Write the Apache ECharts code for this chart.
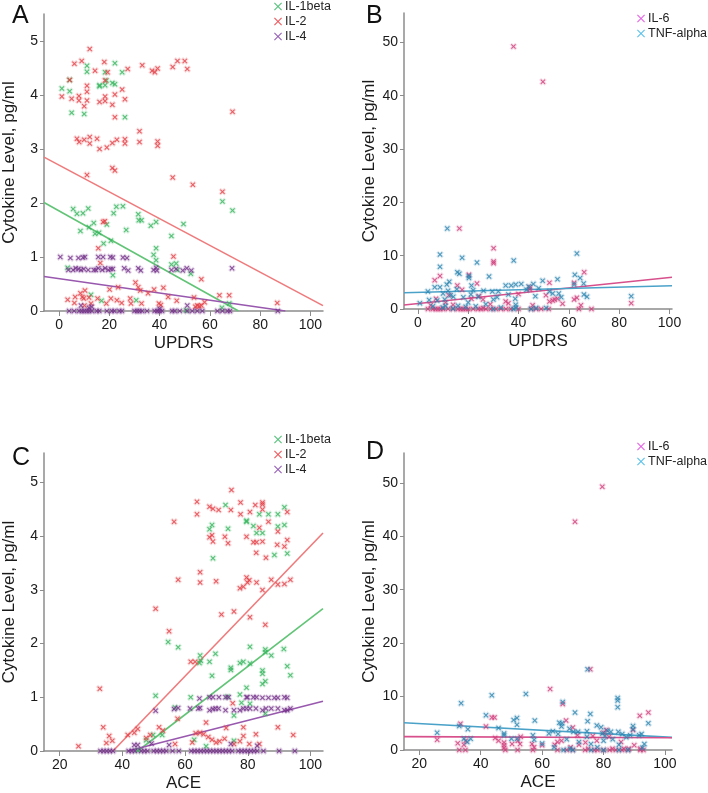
<!DOCTYPE html>
<html>
<head>
<meta charset="utf-8">
<script src="https://cdn.jsdelivr.net/npm/echarts@6/dist/echarts.min.js"></script>
<style>html,body{margin:0;padding:0;background:#fff}#c{width:708px;height:793px}</style>
</head>
<body>
<div id="c"></div>
<script>
// ---------- tick labels ----------
const xTicksUPDRS = [0, 20, 40, 60, 80, 100];
const xTicksACE = [20, 40, 60, 80, 100];
const yTicksLow = [0, 1, 2, 3, 4, 5];
const yTicksHigh = [0, 10, 20, 30, 40, 50];

// ---------- Panel A : UPDRS vs IL-1beta / IL-2 / IL-4 ----------
const A_IL1beta = [[1.1,4.12],[4.2,4.28],[4.2,4.07],[5,3.67],[10,3.65],[11.1,4.54],[11.1,4.43],[16.1,4.16],[16.1,4.18],[18.3,4.18],[18.3,4.42],[18.8,4.27],[21.2,4.22],[22.2,4.2],[22.2,4.59],[25.1,4.42],[26.2,3.59],
[65,2.03],[69,1.86],[5.6,1.89],[7.1,1.8],[9.5,1.81],[11.6,1.9],[8.5,1.48],[13.8,1.63],[11.9,1.55],[14.3,1.43],[15.9,1.45],[17.7,1.25],[20.6,1.3],[21.7,1.81],[22.8,1.93],[25.4,1.94],[26.7,1.5],[31.5,1.79],[31.7,1.68],[32.8,1.68],[36.5,1.58],[38.6,1.65],[49.5,1.61],[44.7,1.39],[38.6,1.16],[37.6,1.04],[38.6,0.94],[44.7,0.86],[46.6,0.88],[47.1,0.76],[52.4,0.69],[21.4,0.66],[16.9,0.19],[12.7,0.3],[30.7,0.2],[3.4,0.8],[50.5,0.01],[64.8,0.06],[67.7,0.14],[19,1.6]];
const A_IL2 = [[12.2,4.85],[6.1,4.58],[9,4.63],[18,4.61],[4.2,4.28],[1.1,3.97],[5,3.93],[7.9,3.98],[7.9,3.9],[11.1,4.17],[11.1,4.06],[11.1,3.9],[10,3.79],[14.3,4.45],[16.1,3.87],[18.3,4.27],[18.3,3.97],[18.3,3.89],[19.3,4.42],[21.2,3.82],[22.2,4.01],[22.2,3.59],[25.1,4.1],[26.2,3.92],[27.3,4.48],[33.1,4.55],[37,4.45],[38.1,4.42],[39.2,4.49],[45.2,4.52],[47.1,4.63],[50,4.63],[51,4.48],[69,3.69],
[7.1,3.19],[8,3.13],[10,3.17],[12.2,3.22],[12.2,3.1],[15.1,3.19],[16.1,3.0],[19,3.03],[21.2,3.11],[23,3.17],[26.2,3.18],[26.2,3.1],[32,3.33],[32,3.13],[39.2,3.14],[39.2,3.06],
[11.1,2.52],[21.2,2.65],[22.2,2.6],[45.2,2.47],[53.2,2.34],[65,2.21],
[17.5,1.65],[18.2,1.66],[15.6,1.16],[16.4,0.89],[45.5,1.01],[56.6,0.59],[30.4,0.53],[31.5,0.44],[20.1,0.4],[23.5,0.44],[32.3,0.38],[35.4,0.33],[37.8,0.4],[41.5,0.43],[3.4,0.21],[6.4,0.26],[8.5,0.33],[10.3,0.38],[9.3,0.26],[9.8,0.23],[11.9,0.25],[12.7,0.14],[6.1,0.15],[15.3,0.23],[18.8,0.14],[20.6,0.23],[23,0.2],[24.9,0.15],[28.3,0.23],[28.6,0.14],[32.8,0.14],[39.7,0.14],[40.5,0.11],[53.7,0.25],[55,0.1],[54.2,0.08],[55.8,0.09],[56.6,0.1],[57.9,0.16],[63.8,0.29],[67.7,0.29],[86.8,0.15],[46.8,0.19],[43.4,0.26],[10.1,0.1]];
const A_IL4 = [[0.5,1.0],[4.5,0.98],[7.7,0.98],[9.5,0.99],[10.3,1.0],[15.6,1.0],[17.5,1.0],[20.4,1.0],[21.4,0.99],[25.4,0.99],[27,0.98],
[3.7,0.76],[5.6,0.76],[6.6,0.79],[7.7,0.78],[8.7,0.76],[9.8,0.78],[11.6,0.76],[13.8,0.76],[14.6,0.76],[15.6,0.79],[17.2,0.76],[18.3,0.79],[19.6,0.76],[20.6,0.78],[21.4,0.78],[25.9,0.79],[27.5,0.75],[31.5,0.79],[32.5,0.75],[37.6,0.76],[38.6,0.8],[38.9,0.75],[44.7,0.76],[46.6,0.78],[49.2,0.75],[50.8,0.79],[52.6,0.75],[68.8,0.79],
[11.9,0.06],[8.7,0.1],[13,0.08],[51,0.1],[40,0.04],
[4,0],[6,0],[8,0],[9,0],[10,0],[11,0],[12,0],[13,0],[15,0],[16,0],[19,0],[21,0],[22,0],[24,0],[25,0],[30,0],[31,0],[32,0],[33,0],[35,0],[38,0],[39,0],[40,0],[41,0],[45,0],[46,0],[48,0],[51,0],[53,0],[55,0],[57,0],[63,0],[65,0],[67,0],[68,0],[87,0]];
const A_fitIL1beta = [[-6,2.01],[71.4,0]];
const A_fitIL2 = [[-6,2.85],[105,0.1]];
const A_fitIL4 = [[-6,0.64],[90,0]];

// ---------- Panel B : UPDRS vs IL-6 / TNF-alpha ----------
const B_IL6 = [[38,49.2],[49.7,42.6],[16.5,15.1],[30.1,11.4],[30.1,8.9],[30.1,8.6],[8.8,6.2],[6.7,5.4],[20.3,6.4],[23.5,4.8],[44.5,4.1],[44.5,3.7],[52.3,4.9],[66.1,6.9],[62.1,4.9],[50.9,2.6],[52.3,1.4],[53.6,1.6],[54.4,1.8],[55.5,1.9],[62.1,1.8],[63.2,2.1],[64.8,0.7],[84.8,1.1],[34.9,1.4],[28.8,0.9],[25.9,1.8],[24.3,2.4],[21.3,1.9],[17.6,3.6],[15.7,4.4],[12.3,2.6],[7.2,1.9],[5.1,0.7],[45.6,0.7],[57.5,1.0],[40,2.8],[36,1.1],[26,0.2],[11,1.2],[14,0.8],
[4,0],[6,0],[7,0],[8,0],[9,0],[10,0],[12,0],[14,0],[16,0],[17,0],[18,0],[19,0],[20,0],[22,0],[24,0],[25,0],[27,0],[29,0],[31,0],[33,0],[35,0],[37,0],[40,0],[45,0],[47,0],[49,0],[52,0],[64,0],[69,0]];
const B_TNF = [[11.7,15.1],[8.8,10.2],[8.8,7.9],[17.6,9.6],[23.5,8.7],[38.1,9.1],[63.2,10.4],[15.7,6.9],[16.5,6.6],[20.3,6.2],[20.3,5.8],[28.3,6.1],[12.5,5.1],[11.5,4.6],[6.7,4.1],[8.8,4.1],[15.5,3.7],[21.3,4.4],[34.9,4.4],[37.1,4.4],[38.9,4.6],[41.1,4.7],[45.9,4.7],[49.6,5.3],[55.5,5.6],[62.4,6.4],[64.5,5.8],[65.9,4.8],[62.1,4.6],[67.2,2.3],[84.8,2.4],[53.6,2.9],[52.3,3.3],[46.7,2.4],[43.2,3.6],[38.7,1.9],[38.9,0.8],[31.5,2.2],[29.6,3.3],[26.1,3.4],[21.1,2.7],[18.1,2.2],[14.1,2.3],[10.7,1.8],[7.7,1.6],[4.5,1.7],[4,3.3],[0.8,1.1],[9.9,0.3],[12,3.4],[10,2.9],[13,2.6],[22,3.5],[24,2.3],[32,3.3],[30,1.8],[44,4.2],[56,2.9],[48,3.9],[36,2.7],[16,0.6],[20,1.2],[27,0.9],[33,0.3],[39,0.3],[45,0],[47,0.2],[57,2.2],[66,2.7],[19,0.4],[6,0.5],[11,0.6],[14,0.1],[23,0.5],[30,0],[38,0],[51,0.2]];
const B_fitIL6 = [[-5.5,0.75],[101,5.95]];
const B_fitTNF = [[-5.5,3.06],[101,4.37]];

// ---------- Panel C : ACE vs IL-1beta / IL-2 / IL-4 ----------
const C_IL1beta = [[68.6,4.21],[67.8,4.13],[72.9,4.58],[73.7,4.14],[79.6,4.27],[79.6,4.29],[81.8,4.19],[82.8,4.06],[83.7,4.41],[84.7,4.06],[86.6,4.41],[89.6,4.41],[91.7,4.54],[91.7,4.21],[89.6,4.18],[88.5,3.65],[92.6,3.68],[68.9,3.59],
[54.6,2.03],[57.8,1.93],[64.6,1.64],[64.8,1.78],[69.7,1.81],[67.8,1.66],[68.6,1.4],[74.6,1.55],[74.6,1.51],[77.5,1.64],[78.6,1.66],[80.7,1.63],[80.7,1.94],[85.6,1.89],[85.6,1.84],[87.5,1.78],[91.5,1.9],[92.6,1.58],[93.6,1.41],[84.7,1.5],[84.7,1.44],[84.7,1.25],[85.6,1.3],[79.6,1.18],[77.5,1.05],[73.5,1.01],[61.8,1.0],[50.6,1.03],[56.8,0.81],[80.7,0.88],[85.6,0.7],[75.6,0.66],[62.9,0.21],[66.7,0.09],[47.6,0.2],[49.8,0.3],[52.7,0.3],[75.6,0.19],[44.9,0.01],[65,1.68],[78,0.9]];
const C_IL2 = [[74.8,4.86],[63.8,4.64],[63.8,4.41],[67.8,4.55],[68.9,4.51],[70.7,4.49],[74.6,4.49],[77.7,4.63],[77.7,4.41],[80.7,4.45],[82.4,4.58],[84.7,4.63],[84.7,4.59],[84.7,4.5],[86.6,4.27],[56.5,4.27],[67.8,3.98],[68.6,4.02],[68.9,3.9],[72.7,3.99],[73.7,3.87],[79.6,3.99],[81.8,3.89],[82.8,3.89],[84.7,3.9],[83.7,4.16],[82.7,3.69],[85.8,3.6],[89.4,3.84],[89.6,4.09],[91.7,3.81],[92.6,3.93],[92.6,4.45],
[64.8,3.33],[64.8,3.14],[57.8,3.19],[69.9,3.16],[77.5,3.03],[78.6,3.06],[79.6,3.23],[80.5,3.18],[79.9,3.14],[82.8,3.14],[84.7,3.0],[87.5,3.19],[89.6,3.1],[91.7,3.11],[93.6,3.19],
[50.6,2.65],[71.6,2.54],[75.6,2.6],[80.7,2.49],[85.6,2.35],[54.9,2.23],[61.8,1.66],[63.2,1.66],[32.8,1.16],[33.9,0.44],[35.8,0.28],[36.8,0.19],[34.9,0.15],[26,0.09],[41.7,0.3],[43.8,0.34],[44.9,0.41],[47.6,0.24],[48.9,0.3],[51.7,0.44],[52.9,0.38],[57.6,0.6],[56.8,0.13],[62.3,0.16],[63.4,0.33],[64.8,0.34],[65.9,0.31],[67.4,0.26],[66.7,0.53],[68.6,0.21],[69.9,0.16],[71,0.18],[72.6,0.23],[73.1,0.43],[75.6,0.13],[77.5,0.18],[78.6,0.28],[78.6,0.44],[80.5,0.13],[82.6,0.31],[83.7,0.13],[89.6,0.44],[94.5,0.3],[75.2,0.89]];
const C_IL4 = [[64.6,0.98],[67.8,1.0],[68.9,1.0],[70.8,1.0],[72.9,1.0],[73.9,1.0],[79.6,1.0],[79.9,1.0],[81.8,1.0],[82.8,1.0],[84.7,0.99],[86.6,0.99],[88.5,0.99],[89.6,0.99],[91.7,1.0],[92.6,0.99],
[50.6,0.75],[56.5,0.78],[57.8,0.8],[61.6,0.79],[64.2,0.79],[64.8,0.8],[67.8,0.76],[68.9,0.78],[69.7,0.79],[70.7,0.79],[72.9,0.76],[75.6,0.76],[77.5,0.76],[78.6,0.79],[79.6,0.79],[80.7,0.79],[82.6,0.79],[84.7,0.76],[85.8,0.79],[87.5,0.79],[89.6,0.79],[91.7,0.76],[92.6,0.76],[93.6,0.79],
[43.8,0.11],[44.9,0.11],[49.3,0.14],[54.9,0.11],[74.6,0.13],[83,0.1],
[33,0],[34,0],[35,0],[36,0],[37,0],[42,0],[43,0],[44,0],[46,0],[47,0],[48,0],[50,0],[51,0],[52,0],[53,0],[54,0],[56,0],[58,0],[62,0],[63,0],[64,0],[65,0],[66,0],[67,0],[68,0],[69,0],[70,0],[71,0],[72,0],[73,0],[74,0],[75,0],[77,0],[78,0],[79,0],[80,0],[81,0],[82,0],[83,0],[85,0],[90,0],[95,0]];
const C_fitIL1beta = [[44.9,0],[104,2.65]];
const C_fitIL2 = [[37,0],[104,4.06]];
const C_fitIL4 = [[41.7,0],[104,0.925]];

// ---------- Panel D : ACE vs IL-6 / TNF-alpha ----------
const D_IL6 = [[79.6,49.3],[70.7,42.75],[75.7,15.1],[62.6,11.4],[66.7,8.6],[67.8,5.5],[33.4,4.9],[32.5,1.25],[34.5,1.0],[35.1,1.75],[41.7,4.4],[43.6,6.1],[44.5,6.1],[44.7,2.25],[45.8,1.75],[47.6,1.4],[47.6,0.9],[47.6,0.4],[50.2,1.1],[52.1,1.75],[52.8,1.1],[56.7,1.1],[57.4,0.5],[64.1,1.0],[65,1.5],[66.3,1.75],[69.3,0.5],[71.5,2.75],[74.1,1.4],[75,0.25],[76.5,2.6],[77.8,1.75],[80,3.25],[80.9,3.75],[81.8,2.5],[82.9,0.25],[85.7,1.5],[86.6,0.25],[88.3,0.25],[90,0.9],[91.8,6.4],[94.6,7.0],[92,0.25],[25.8,1.9],[89.6,3.75],[70,4.2],[60,0.9],[53,2.5],[72,1.0],
[33,0],[35,0],[48,0],[52,0],[57,0],[65,0],[68,0],[70,0],[74,0],[77,0],[78,0],[80,0],[82,0],[84,0],[86,0],[88,0],[92,0],[93,0]];
const D_TNF = [[74.8,15.1],[25.8,3.25],[33.6,8.75],[33,4.5],[35.8,3.9],[34.5,2.1],[36.7,2.1],[35.6,1.5],[43.6,10.25],[41.7,6.5],[45.8,4.1],[47.6,3.1],[47.6,2.75],[50.7,5.6],[51.8,6.0],[51.8,4.75],[50,2.1],[51.9,2.1],[54.7,10.5],[57.6,5.5],[57,2.75],[57.4,1.9],[62.2,3.1],[63.5,3.5],[65.6,5.1],[66.5,5.0],[66.3,4.4],[65.2,3.0],[66.7,9.0],[70.7,7.0],[68.9,4.0],[70.2,3.4],[71.7,3.4],[74.6,3.5],[75.7,6.75],[74.8,5.4],[74.6,2.5],[75.9,1.1],[77.8,4.6],[79.2,4.25],[79.6,3.1],[80.5,2.6],[80,1.75],[81.3,3.6],[82.4,3.4],[84.6,9.75],[84.6,9.25],[84.6,8.0],[84.8,3.4],[86.1,3.0],[87.4,2.4],[88.7,2.75],[89.6,4.5],[89.6,3.9],[91.6,2.75],[92.4,3.0],[93.3,1.1],[94.6,5.0],[92.7,0.4],[69.1,0.25],[63.9,0.5],[68,2.0],[72,1.5],[78,0.5],[83,2.0],[85,1.0],[60,1.2],[67,0],[70,0],[76,0],[80,0],[85,0],[88,0]];
const D_fitTNF = [[15,5.1],[102.3,2.37]];
const D_fitIL6 = [[15,2.5],[102.3,2.3]];

// ---------- styling ----------
const FONT = '"Liberation Sans", Arial, Helvetica, sans-serif';
const XSYM = 'path://M0,1.5L1.5,0L5,3.5L8.5,0L10,1.5L6.5,5L10,8.5L8.5,10L5,6.5L1.5,10L0,8.5L3.5,5Z';
const LEGSYM = 'path://M0,1L1,0L5,4L9,0L10,1L6,5L10,9L9,10L5,6L1,10L0,9L4,5Z';
const COL = {
  il1b: {pt:'#35b45c', halo:'rgba(53,180,92,0.22)', line:'#62c477', leg:'#2fb35f'},
  il2:  {pt:'#e53d45', halo:'rgba(229,61,69,0.22)', line:'#ef7a7c', leg:'#e8333a'},
  il4:  {pt:'#74308a', halo:'rgba(116,48,138,0.22)', line:'#9858ae', leg:'#7d3ca8'},
  il6:  {pt:'#cf3c7b', halo:'rgba(207,60,123,0.22)', line:'#d7508c', leg:'#e03ee0'},
  tnf:  {pt:'#2a84b0', halo:'rgba(42,132,176,0.22)', line:'#4ba2c9', leg:'#35b3e6'}
};
const AXC = '#8c8c8c';

function xAx(gi, min, max, ticks, name) {
  return {
    type:'value', gridIndex:gi, min:min, max:max,
    name:name, nameLocation:'middle', nameGap:24,
    nameTextStyle:{fontSize:17, color:'#1a1a1a', fontFamily:FONT},
    axisLine:{show:true, onZero:false, lineStyle:{color:AXC, width:1.5}},
    axisTick:{show:true, length:5, lineStyle:{color:AXC}, customValues:ticks},
    axisLabel:{fontSize:14, color:'#1a1a1a', fontFamily:FONT, margin:7, customValues:ticks},
    splitLine:{show:false}
  };
}
function yAx(gi, min, max, ticks) {
  return {
    type:'value', gridIndex:gi, min:min, max:max,
    name:'Cytokine Level, pg/ml', nameLocation:'middle', nameGap:26,
    nameTextStyle:{fontSize:17, color:'#1a1a1a', fontFamily:FONT},
    axisLine:{show:true, onZero:false, lineStyle:{color:AXC, width:1.5}},
    axisTick:{show:true, length:4, lineStyle:{color:AXC}, customValues:ticks},
    axisLabel:{fontSize:14, color:'#1a1a1a', fontFamily:FONT, margin:6, customValues:ticks},
    splitLine:{show:false}
  };
}
function sc(name, data, gi, c) {
  return {type:'scatter', name:name, data:data, xAxisIndex:gi, yAxisIndex:gi,
    symbol:XSYM, symbolSize:5, clip:false, z:3,
    itemStyle:{color:c.pt, borderColor:c.halo, borderWidth:2}};
}
function fit(name, data, gi, c) {
  return {type:'line', name:name, data:data, xAxisIndex:gi, yAxisIndex:gi,
    showSymbol:false, symbol:'none', z:2, silent:true,
    lineStyle:{color:c.line, width:1.6}};
}
function leg(left, top, items) {
  return {
    left:left, top:top, orient:'vertical', itemWidth:8, itemHeight:8, itemGap:2,
    icon:LEGSYM, padding:0, selectedMode:false,
    textStyle:{fontSize:12.5, color:'#222', fontFamily:FONT, padding:[0,0,0,-2]},
    data:items.map(it => ({name:it[0], itemStyle:{color:it[1], borderWidth:0}}))
  };
}
function letter(t, x, y) {
  return {type:'text', left:x, top:y, style:{text:t, font:'25px ' + FONT, fill:'#111'}};
}

const chart = echarts.init(document.getElementById('c'), null, {renderer:'canvas'});
chart.setOption({
  animation:false,
  backgroundColor:'#fff',
  grid:[
    {left:43, top:14, width:280, height:297},
    {left:404, top:13, width:268, height:296},
    {left:43, top:453, width:280, height:298},
    {left:404, top:453, width:268, height:297}
  ],
  xAxis:[
    xAx(0, -6, 105, xTicksUPDRS, 'UPDRS'),
    xAx(1, -5.5, 101, xTicksUPDRS, 'UPDRS'),
    xAx(2, 15, 104, xTicksACE, 'ACE'),
    xAx(3, 15, 102.3, xTicksACE, 'ACE')
  ],
  yAxis:[
    yAx(0, 0, 5.5, yTicksLow),
    yAx(1, 0, 55.5, yTicksHigh),
    yAx(2, 0, 5.55, yTicksLow),
    yAx(3, 0, 55.6, yTicksHigh)
  ],
  legend:[
    leg(274, 0, [['IL-1beta', COL.il1b.leg], ['IL-2', COL.il2.leg], ['IL-4', COL.il4.leg]]),
    leg(637, 12, [['IL-6', COL.il6.leg], ['TNF-alpha', COL.tnf.leg]]),
    leg(274, 433, [['IL-1beta', COL.il1b.leg], ['IL-2', COL.il2.leg], ['IL-4', COL.il4.leg]]),
    leg(637, 440, [['IL-6', COL.il6.leg], ['TNF-alpha', COL.tnf.leg]])
  ],
  graphic:[
    letter('A', 12, 4), letter('B', 366, 4), letter('C', 12, 446), letter('D', 366, 440)
  ],
  series:[
    sc('IL-1beta', A_IL1beta, 0, COL.il1b),
    sc('IL-2', A_IL2, 0, COL.il2),
    sc('IL-4', A_IL4, 0, COL.il4),
    fit('A fit IL-1beta', A_fitIL1beta, 0, COL.il1b),
    fit('A fit IL-2', A_fitIL2, 0, COL.il2),
    fit('A fit IL-4', A_fitIL4, 0, COL.il4),

    sc('IL-6', B_IL6, 1, COL.il6),
    sc('TNF-alpha', B_TNF, 1, COL.tnf),
    fit('B fit IL-6', B_fitIL6, 1, COL.il6),
    fit('B fit TNF', B_fitTNF, 1, COL.tnf),

    sc('IL-1beta', C_IL1beta, 2, COL.il1b),
    sc('IL-2', C_IL2, 2, COL.il2),
    sc('IL-4', C_IL4, 2, COL.il4),
    fit('C fit IL-1beta', C_fitIL1beta, 2, COL.il1b),
    fit('C fit IL-2', C_fitIL2, 2, COL.il2),
    fit('C fit IL-4', C_fitIL4, 2, COL.il4),

    sc('IL-6', D_IL6, 3, COL.il6),
    sc('TNF-alpha', D_TNF, 3, COL.tnf),
    fit('D fit TNF', D_fitTNF, 3, COL.tnf),
    fit('D fit IL-6', D_fitIL6, 3, COL.il6)
  ]
});
</script>
</body>
</html>
